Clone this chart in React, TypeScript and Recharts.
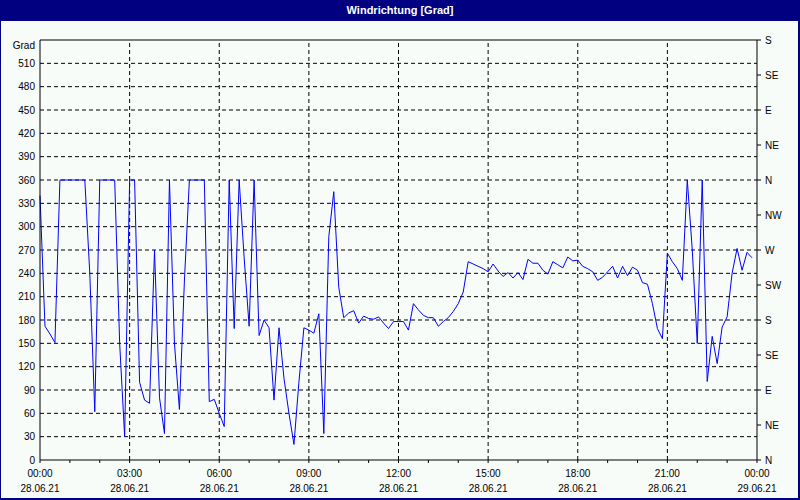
import React from 'react'
import { LineChart, Line, XAxis, YAxis, ReferenceLine } from 'recharts'

// Windrichtung in Grad, 10-Minuten-Werte ab 28.06.21 00:00
const windDir = [
  340, 172, 162, 151, 360, 360, 360, 360, 360, 360, 240, 62,
  360, 360, 360, 360, 150, 30, 360, 360, 100, 77, 73, 270,
  80, 34, 360, 150, 65, 230, 360, 360, 360, 360, 75, 78,
  60, 43, 360, 169, 360, 260, 172, 360, 160, 180, 170, 77,
  170, 105, 60, 20, 100, 170, 167, 163, 188, 34, 287, 345,
  222, 183, 189, 192, 176, 185, 182, 181, 184, 176, 169, 178,
  178, 178, 167, 201, 193, 186, 183, 183, 172, 178, 183, 191,
  201, 216, 255, 252, 249, 246, 242, 252, 243, 236, 241, 234,
  241, 232, 258, 253, 253, 244, 239, 255, 251, 247, 261, 256,
  257, 249, 246, 242, 231, 235, 242, 249, 234, 249, 237, 248,
  244, 228, 226, 201, 169, 156, 266, 255, 246, 231, 360, 270,
  150, 360, 101, 159, 124, 171, 184, 240, 272, 244, 267, 260,
]
const STEP_MIN = 10

const gradTicks = [0, 30, 60, 90, 120, 150, 180, 210, 240, 270, 300, 330, 360, 390, 420, 450, 480, 510, 540]
const compassTicks = [0, 45, 90, 135, 180, 225, 270, 315, 360, 405, 450, 495, 540]
const compassLabels = ['N', 'NE', 'E', 'SE', 'S', 'SW', 'W', 'NW', 'N', 'NE', 'E', 'SE', 'S']

// Minuten seit 00:00
const hourTicks = [0, 60, 120, 180, 240, 300, 360, 420, 480, 540, 600, 660, 720, 780, 840, 900, 960, 1020, 1080, 1140, 1200, 1260, 1320, 1380, 1440]
const labelTicks = [0, 180, 360, 540, 720, 900, 1080, 1260, 1440]
const timeLabels = ['00:00', '03:00', '06:00', '09:00', '12:00', '15:00', '18:00', '21:00', '00:00']
const dateLabels = ['28.06.21', '28.06.21', '28.06.21', '28.06.21', '28.06.21', '28.06.21', '28.06.21', '28.06.21', '29.06.21']

const data = windDir.map((v, i) => ({ t: i * STEP_MIN, v }))

const FONT = "'Liberation Sans', Arial, sans-serif"
const NAVY = '#000080'

const TimeTick = ({ x, y, payload }: any) => {
  const idx = labelTicks.indexOf(payload.value)
  if (idx < 0) return null
  return (
    <g fontFamily={FONT} fontSize={10} fill="#000">
      <text x={x} y={y + 12} textAnchor="middle">{timeLabels[idx]}</text>
      <text x={x} y={y + 27} textAnchor="middle">{dateLabels[idx]}</text>
    </g>
  )
}

const GradTick = ({ x, y, payload }: any) => {
  const top = payload.value === 540
  return (
    <text x={x} y={y + (top ? 5 : 0)} dy="0.35em" textAnchor="end"
      fontFamily={FONT} fontSize={10} fill="#000">
      {top ? 'Grad' : payload.value}
    </text>
  )
}

const CompassTick = ({ x, y, payload }: any) => (
  <text x={x} y={y} dy="0.35em" textAnchor="start" fontFamily={FONT} fontSize={10} fill="#000">
    {compassLabels[compassTicks.indexOf(payload.value)]}
  </text>
)

export default function App() {
  return (
    <div style={{ position: 'relative', width: 800, height: 500, background: '#f8fcf8', overflow: 'hidden' }}>
      <style>{'body{margin:0}'}</style>
      <LineChart width={800} height={500} data={data}
        margin={{ top: 40, right: 0, bottom: 0, left: 0 }}>
        <XAxis dataKey="t" type="number" domain={[0, 1440]} ticks={hourTicks}
          interval={0} height={40} tickSize={3} tickMargin={2}
          axisLine={{ stroke: '#000' }} tickLine={{ stroke: '#000' }} tick={<TimeTick />} />
        <YAxis yAxisId="left" type="number" domain={[0, 540]} ticks={gradTicks}
          interval={0} width={40} tickSize={3} tickMargin={2} tickLine={false}
          axisLine={{ stroke: '#000' }} tick={<GradTick />} />
        <YAxis yAxisId="right" orientation="right" type="number" domain={[0, 540]}
          allowDataOverflow ticks={compassTicks} interval={0} width={43} tickSize={4} tickMargin={4}
          axisLine={{ stroke: '#000' }} tickLine={{ stroke: '#000' }} tick={<CompassTick />} />
        {gradTicks.slice(1, -1).map((g) => (
          <ReferenceLine key={'h' + g} yAxisId="left" y={g} stroke="#000" strokeDasharray="4 3" />
        ))}
        {labelTicks.slice(1, -1).map((m) => (
          <ReferenceLine key={'v' + m} yAxisId="left" x={m} stroke="#000" strokeDasharray="4 3" />
        ))}
        <ReferenceLine yAxisId="left" y={540} stroke="#000" />
        <Line yAxisId="left" type="linear" dataKey="v" stroke="#0000ff" strokeWidth={1}
          dot={false} activeDot={false} isAnimationActive={false} />
      </LineChart>
      <div style={{
        position: 'absolute', left: 0, top: 0, width: 800, height: 21, background: NAVY,
        color: '#fff', fontFamily: FONT, fontWeight: 'bold', fontSize: 11,
        lineHeight: '21px', textAlign: 'center', zIndex: 2,
      }}>
        Windrichtung [Grad]
      </div>
      <div style={{
        position: 'absolute', left: 0, top: 0, width: 800, height: 500, boxSizing: 'border-box',
        borderLeft: `1px solid ${NAVY}`, borderRight: `2px solid ${NAVY}`, borderBottom: `2px solid ${NAVY}`,
        pointerEvents: 'none', zIndex: 2,
      }} />
    </div>
  )
}
